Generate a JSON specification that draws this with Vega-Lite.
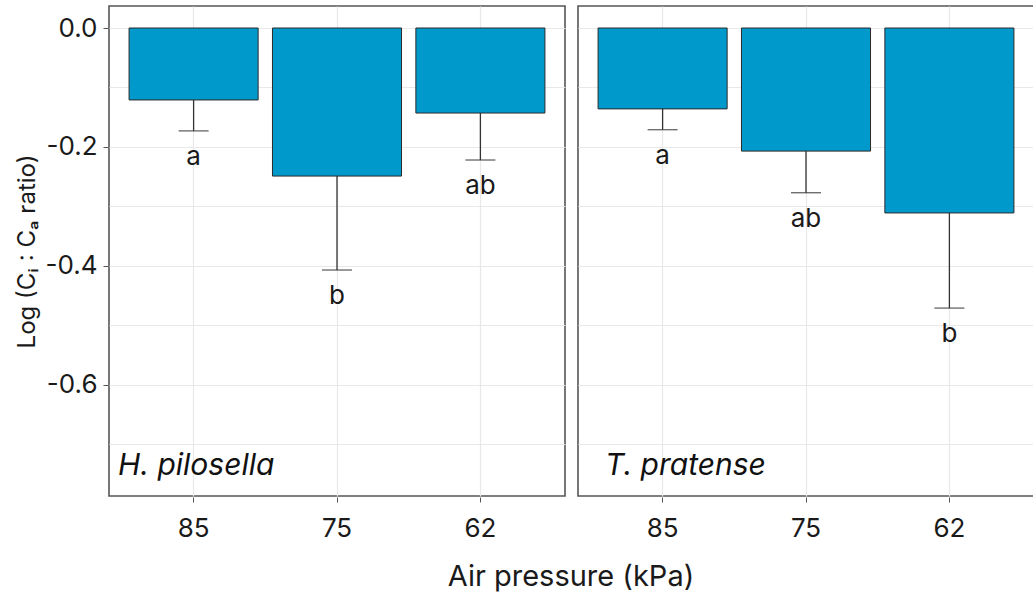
{
  "$schema": "https://vega.github.io/schema/vega-lite/v6.json",
  "padding": {"left": 15, "top": 5, "right": 0, "bottom": 5},
  "data": {
    "values": [
      {"species": "H. pilosella", "pressure": "85", "mean": -0.121, "lower": -0.173, "letter": "a"},
      {"species": "H. pilosella", "pressure": "75", "mean": -0.249, "lower": -0.407, "letter": "b"},
      {"species": "H. pilosella", "pressure": "62", "mean": -0.143, "lower": -0.222, "letter": "ab"},
      {"species": "T. pratense", "pressure": "85", "mean": -0.136, "lower": -0.171, "letter": "a"},
      {"species": "T. pratense", "pressure": "75", "mean": -0.207, "lower": -0.277, "letter": "ab"},
      {"species": "T. pratense", "pressure": "62", "mean": -0.311, "lower": -0.471, "letter": "b"}
    ]
  },
  "facet": {
    "column": {
      "field": "species",
      "type": "nominal",
      "title": "Air pressure (kPa)",
      "header": {
        "titleOrient": "bottom",
        "labels": false,
        "titleFontSize": 29,
        "titleFontWeight": "normal",
        "titleColor": "#1a1a1a",
        "titleFont": "Inter",
        "titlePadding": 12
      }
    }
  },
  "spacing": 11,
  "spec": {
    "width": 456,
    "height": 490,
    "encoding": {
      "x": {
        "field": "pressure",
        "type": "nominal",
        "sort": ["85", "75", "62"],
        "scale": {"paddingInner": 0.1, "paddingOuter": 0.14},
        "axis": {
          "title": null,
          "labelAngle": 0,
          "tickSize": 5,
          "labelPadding": 13,
          "grid": true,
          "domain": false
        }
      }
    },
    "layer": [
      {
        "mark": {"type": "bar", "color": "#0099cc", "stroke": "#2b2b2b", "strokeWidth": 1},
        "encoding": {
          "y": {
            "field": "mean",
            "type": "quantitative",
            "scale": {"domain": [-0.787, 0.037], "nice": false, "zero": false},
            "axis": {
              "title": "Log (Cᵢ : Cₐ ratio)",
              "values": [-0.7, -0.6, -0.5, -0.4, -0.3, -0.2, -0.1, 0],
              "labelExpr": "abs(round(datum.value*10)) % 2 == 0 ? replace(format(datum.value, '.1f'), '−', '-') : ''",
              "tickOpacity": {"condition": {"test": "abs(round(datum.value*10)) % 2 == 1", "value": 0}, "value": 1},
              "tickSize": 5,
              "labelPadding": 6,
              "domain": false,
              "grid": true,
              "titleFontSize": 24,
              "titlePadding": 6
            }
          },
          "y2": {"datum": 0}
        }
      },
      {
        "mark": {"type": "rule", "color": "#333333", "strokeWidth": 1.3},
        "encoding": {
          "y": {"field": "mean", "type": "quantitative"},
          "y2": {"field": "lower"}
        }
      },
      {
        "mark": {"type": "tick", "color": "#333333", "size": 30, "thickness": 1.4},
        "encoding": {
          "y": {"field": "lower", "type": "quantitative"}
        }
      },
      {
        "mark": {"type": "text", "fontSize": 26, "color": "#1a1a1a", "baseline": "alphabetic", "dy": 34},
        "encoding": {
          "y": {"field": "lower", "type": "quantitative"},
          "text": {"field": "letter"}
        }
      },
      {
        "transform": [{"filter": "datum.pressure == '85' && datum.species == 'H. pilosella'"}],
        "mark": {"type": "text", "fontSize": 30, "fontStyle": "italic", "color": "#111111", "align": "left", "baseline": "middle", "dx": -11},
        "encoding": {
          "x": {"field": "pressure", "type": "nominal", "sort": ["85", "75", "62"], "bandPosition": 0},
          "y": {"datum": -0.736},
          "text": {"field": "species"}
        }
      },
      {
        "transform": [{"filter": "datum.pressure == '85' && datum.species == 'T. pratense'"}],
        "mark": {"type": "text", "fontSize": 30, "fontStyle": "italic", "color": "#111111", "align": "left", "baseline": "middle", "dx": 7},
        "encoding": {
          "x": {"field": "pressure", "type": "nominal", "sort": ["85", "75", "62"], "bandPosition": 0},
          "y": {"datum": -0.736},
          "text": {"field": "species"}
        }
      }
    ]
  },
  "config": {
    "font": "Inter",
    "view": {"stroke": "#555555", "strokeWidth": 1.6},
    "axis": {
      "labelFontSize": 26,
      "labelColor": "#1a1a1a",
      "titleColor": "#1a1a1a",
      "titleFontWeight": "normal",
      "tickColor": "#555555",
      "gridColor": "#e8e8e8",
      "gridWidth": 1.2
    }
  }
}
